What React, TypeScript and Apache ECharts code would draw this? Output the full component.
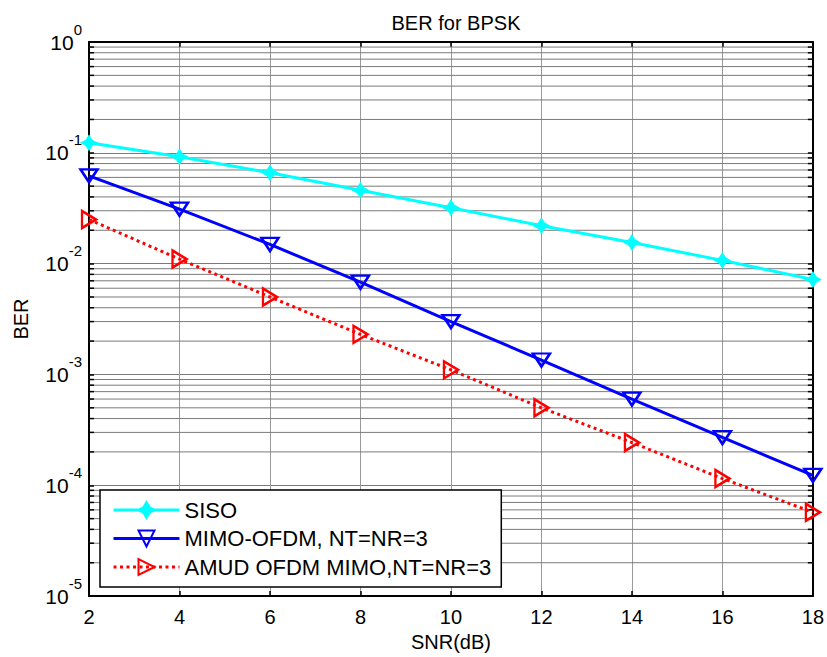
import React, { useEffect, useRef } from "react";
import * as echarts from "echarts";

const SNR = [2, 4, 6, 8, 10, 12, 14, 16, 18];
const SISO = [0.123, 0.092, 0.066, 0.046, 0.032, 0.022, 0.0155, 0.0107, 0.0072];
const MIMO = [0.062, 0.031, 0.0149, 0.0068, 0.003, 0.00135, 0.0006, 0.00027, 0.000123];
const AMUD = [0.025, 0.011, 0.005, 0.0023, 0.0011, 0.0005, 0.000243, 0.000115, 0.000057];
const SERIES_NAMES = ["SISO", "MIMO-OFDM, NT=NR=3", "AMUD OFDM MIMO,NT=NR=3"];
const DECADES = [-5, -4, -3, -2, -1];
const MINOR_MULTS = [2, 3, 4, 5, 6, 7, 8, 9];
const TITLE = "BER for BPSK";
const X_NAME = "SNR(dB)";
const Y_NAME = "BER";

const FONT = "'Liberation Sans', Arial, Helvetica, sans-serif";
const STAR = "path://M0,-8 L3,-3 L8,0 L3,3 L0,8 L-3,3 L-8,0 L-3,-3 Z";

export default function App() {
  const ref = useRef<HTMLDivElement>(null);
  useEffect(() => {
    if (!ref.current) return;
    const chart = echarts.init(ref.current, undefined, { renderer: "svg" });
    const minorVals: number[] = [];
    DECADES.forEach((d) => MINOR_MULTS.forEach((m) => minorVals.push(m * Math.pow(10, d))));
    const axisLineStyle = { color: "#000", width: 2 };
    const gridColor = "#7a7a7a";
    const option: any = {
      animation: false,
      backgroundColor: "#fff",
      title: {
        text: TITLE,
        left: 451,
        top: 8,
        textAlign: "center",
        textStyle: { fontFamily: FONT, fontSize: 20, fontWeight: "normal", color: "#000" },
      },
      grid: { left: 89, right: 14, top: 42, bottom: 59, containLabel: false },
      legend: {
        data: SERIES_NAMES,
        orient: "vertical",
        left: 100,
        top: 490,
        backgroundColor: "#fff",
        borderColor: "#000",
        borderWidth: 1.5,
        borderRadius: 0,
        padding: [9, 10, 9, 12],
        itemGap: 6.5,
        itemWidth: 66,
        itemHeight: 20,
        lineStyle: { width: 3 },
        textStyle: { fontFamily: FONT, fontSize: 22, color: "#000" },
      },
      xAxis: [
        {
          type: "value",
          min: 2,
          max: 18,
          interval: 2,
          name: X_NAME,
          nameLocation: "middle",
          nameGap: 29,
          nameTextStyle: { fontFamily: FONT, fontSize: 20, color: "#000" },
          axisLine: { lineStyle: axisLineStyle },
          axisTick: { inside: true, length: 5, lineStyle: { color: "#000", width: 1.5 } },
          axisLabel: { fontFamily: FONT, fontSize: 20, color: "#000", margin: 11 },
          splitLine: { show: true, lineStyle: { color: "#999", width: 1 } },
        },
        {
          type: "value",
          position: "top",
          min: 2,
          max: 18,
          interval: 2,
          axisLine: { lineStyle: axisLineStyle },
          axisTick: { inside: true, length: 5, lineStyle: { color: "#000", width: 1.5 } },
          axisLabel: { show: false },
          splitLine: { show: false },
        },
      ],
      yAxis: [
        {
          type: "log",
          logBase: 10,
          min: 1e-5,
          max: 1,
          name: Y_NAME,
          nameLocation: "middle",
          nameGap: 58,
          nameTextStyle: { fontFamily: FONT, fontSize: 20, color: "#000" },
          axisLine: { lineStyle: axisLineStyle },
          axisTick: { inside: true, length: 5, lineStyle: { color: "#000", width: 1.5 } },
          axisLabel: {
            margin: 7,
            formatter: (v: number) => "{b|10}{s|" + Math.round(Math.log10(v)) + "}",
            rich: {
              b: { fontFamily: FONT, fontSize: 21, color: "#000" },
              s: { fontFamily: FONT, fontSize: 15, color: "#000", padding: [0, 0, 26, 0] },
            },
          },
          splitLine: { show: true, lineStyle: { color: gridColor, width: 1 } },
        },
        {
          type: "log",
          logBase: 10,
          min: 1e-5,
          max: 1,
          position: "right",
          axisLine: { lineStyle: axisLineStyle },
          axisTick: { inside: true, length: 5, lineStyle: { color: "#000", width: 1.5 } },
          axisLabel: { show: false },
          splitLine: { show: false },
        },
      ],
      series: [
        {
          type: "custom",
          silent: true,
          z: 1,
          xAxisIndex: 0,
          yAxisIndex: 0,
          data: minorVals.map((v) => [SNR[0], v]),
          renderItem: (params: any, api: any) => {
            const cs = params.coordSys;
            const y = api.coord([api.value(0), api.value(1)])[1];
            const x0 = cs.x;
            const x1 = cs.x + cs.width;
            return {
              type: "group",
              children: [
                { type: "line", shape: { x1: x0, y1: y, x2: x1, y2: y }, style: { stroke: gridColor, lineWidth: 1 } },
                { type: "line", shape: { x1: x0, y1: y, x2: x0 + 5, y2: y }, style: { stroke: "#000", lineWidth: 1.5 } },
                { type: "line", shape: { x1: x1 - 5, y1: y, x2: x1, y2: y }, style: { stroke: "#000", lineWidth: 1.5 } },
              ],
            };
          },
        },
        {
          name: SERIES_NAMES[0],
          type: "line",
          z: 3,
          data: SNR.map((x, i) => [x, SISO[i]]),
          symbol: STAR,
          symbolSize: [16, 15],
          lineStyle: { color: "#00ffff", width: 3 },
          itemStyle: { color: "#00ffff", borderColor: "#00ffff", borderWidth: 1 },
        },
        {
          name: SERIES_NAMES[1],
          type: "line",
          z: 4,
          data: SNR.map((x, i) => [x, MIMO[i]]),
          symbol: "triangle",
          symbolRotate: 180,
          symbolSize: [17, 13],
          lineStyle: { color: "#0000ff", width: 3 },
          itemStyle: { color: "rgba(0,0,0,0)", borderColor: "#0000ff", borderWidth: 2.5 },
        },
        {
          name: SERIES_NAMES[2],
          type: "line",
          z: 5,
          data: SNR.map((x, i) => [x, AMUD[i]]),
          symbol: "triangle",
          symbolRotate: -90,
          symbolSize: [17, 14],
          lineStyle: { color: "#ff0000", width: 3, type: [3, 3.5] },
          itemStyle: { color: "rgba(0,0,0,0)", borderColor: "#ff0000", borderWidth: 2.5 },
        },
      ],
    };
    chart.setOption(option);
    return () => chart.dispose();
  }, []);
  return (
    <div
      ref={ref}
      style={{ position: "fixed", left: 0, top: 0, width: 827, height: 657, background: "#fff" }}
    />
  );
}
